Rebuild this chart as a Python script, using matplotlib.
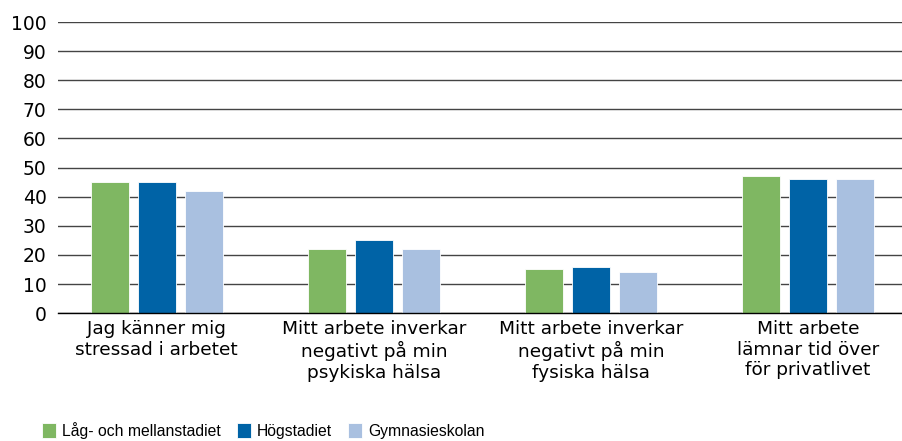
import matplotlib
matplotlib.use("Agg")
import matplotlib.pyplot as plt
import numpy as np

plt.rcParams['font.family'] = ['DejaVu Sans']

categories = ["Jag känner mig\nstressad i arbetet",
              "Mitt arbete inverkar\nnegativt på min\npsykiska hälsa",
              "Mitt arbete inverkar\nnegativt på min\nfysiska hälsa",
              "Mitt arbete\nlämnar tid över\nför privatlivet"]
series = ["Låg- och mellanstadiet", "Högstadiet", "Gymnasieskolan"]
lag_mellan = [45, 22, 15, 47]
hogstadiet = [45, 25, 16, 46]
gymnasie = [42, 22, 14, 46]
colors = ["#7fb762", "#0063a6", "#a9c0e0"]

if __name__ == "__main__":
    fig = plt.figure(figsize=(9.03, 4.41), dpi=100)
    ax = fig.add_axes([0.064, 0.290, 0.936, 0.660])

    x = np.arange(len(categories))
    step = 0.2165
    width = 0.175
    for i, (vals, name) in enumerate(zip([lag_mellan, hogstadiet, gymnasie], series)):
        ax.bar(x + (i - 1) * step, vals, width, color=colors[i], label=name,
               edgecolor="white", linewidth=0.6, zorder=3)

    ax.set_ylim(0, 100)
    ax.set_yticks(range(0, 101, 10))
    ax.set_xlim(-0.456, 3.438)
    ax.yaxis.grid(True, color="#444444", linewidth=1.0, zorder=0)
    for s in ["top", "right", "left"]:
        ax.spines[s].set_visible(False)
    ax.spines["bottom"].set_color("black")
    ax.spines["bottom"].set_linewidth(1.0)
    ax.spines["bottom"].set_zorder(4)
    ax.tick_params(axis="y", length=0, pad=8, labelsize=13.5)
    ax.tick_params(axis="x", length=0, pad=5, labelsize=13.3)
    ax.set_xticks(x)
    ax.set_xticklabels(categories, linespacing=1.18)

    handles, labels = ax.get_legend_handles_labels()
    fig.legend(handles, labels, loc="lower left", bbox_to_anchor=(0.040, -0.009),
               ncol=3, frameon=False, handlelength=0.85, handleheight=1.05,
               handletextpad=0.4, columnspacing=1.05, borderaxespad=0,
               prop={"family": "Liberation Sans", "size": 11.3})

    plt.savefig("out.png", dpi=100)
